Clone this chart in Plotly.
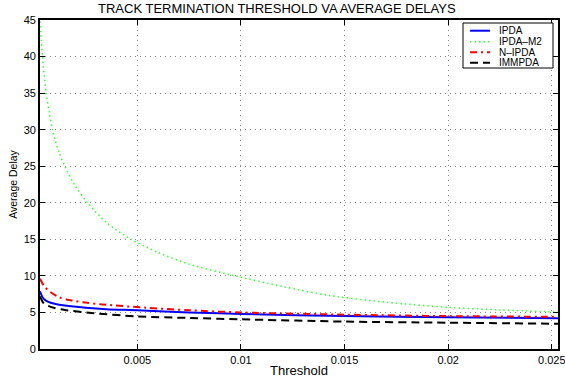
import plotly.graph_objects as go

# ---- data ----
x_ipda = [0.0003, 0.0004, 0.0005, 0.0007, 0.001, 0.0015, 0.0025, 0.0035, 0.005, 0.0075, 0.01, 0.015, 0.02, 0.0253]
y_ipda = [7.9, 7.2, 6.8, 6.45, 6.2, 5.95, 5.65, 5.45, 5.3, 5.0, 4.8, 4.5, 4.33, 4.2]

x_m2 = [0.0003, 0.00042, 0.0005, 0.0006, 0.00075, 0.0009, 0.0012, 0.0015, 0.002, 0.0026, 0.0035,
        0.0047, 0.006, 0.0075, 0.0097, 0.012, 0.0143, 0.017, 0.02, 0.0225, 0.0253]
y_m2 = [44.8, 40.0, 37.5, 35.0, 32.3, 30.0, 27.0, 25.0, 22.3, 20.0, 17.3,
        15.0, 13.2, 11.6, 10.0, 8.55, 7.3, 6.4, 5.7, 5.35, 5.05]

x_nipda = [0.0003, 0.0005, 0.0008, 0.0012, 0.0017, 0.0025, 0.0033, 0.0054, 0.0075, 0.01, 0.015, 0.02, 0.0253]
y_nipda = [9.6, 8.6, 7.8, 7.1, 6.7, 6.35, 6.1, 5.65, 5.3, 5.0, 4.7, 4.5, 4.4]

x_imm = [0.0003, 0.0004, 0.0005, 0.0007, 0.001, 0.0015, 0.0029, 0.005, 0.0075, 0.01, 0.015, 0.02, 0.0253]
y_imm = [7.2, 6.6, 6.2, 5.9, 5.6, 5.33, 4.9, 4.45, 4.25, 4.06, 3.75, 3.6, 3.45]

names = ["IPDA", "IPDA\u2013M2", "N\u2013IPDA", "IMMPDA"]
colors = ["#0000ff", "#33ff33", "#ff0000", "#000000"]
dashes = ["solid", "1.5px,3px", "7px,4px,2px,4px", "8px,5px"]
widths = [2, 1.5, 2, 2]

xs = [x_ipda, x_m2, x_nipda, x_imm]
ys = [y_ipda, y_m2, y_nipda, y_imm]

FONT = "Liberation Sans, Arial, sans-serif"

fig = go.Figure()
for xv, yv, n, c, d, w in zip(xs, ys, names, colors, dashes, widths):
    fig.add_trace(go.Scatter(x=xv, y=yv, name=n, mode="lines",
                             line=dict(color=c, dash=d, width=w, shape="spline", smoothing=0.8),
                             showlegend=False))

# plot area in pixels: x 40..558, y 20..349
L, R, T, B = 40, 558, 20, 349
W, H = R - L, B - T
def px(xp): return (xp - L) / W
def py(yp): return (B - yp) / H

# manual compact legend
fig.add_shape(type="rect", xref="paper", yref="paper", x0=px(463), x1=px(553), y0=py(68), y1=py(23),
              line=dict(color="black", width=1), fillcolor="white", layer="above")
rows = [30.7, 41.7, 52.3, 62.7]
for yr, n, c, d, w in zip(rows, names, colors, dashes, widths):
    fig.add_shape(type="line", xref="paper", yref="paper", x0=px(470), x1=px(490), y0=py(yr), y1=py(yr),
                  line=dict(color=c, dash=d, width=w), layer="above")
    fig.add_annotation(xref="paper", yref="paper", x=px(497), y=py(yr), text=n, showarrow=False,
                       xanchor="left", yanchor="middle", font=dict(family=FONT, size=10, color="black"))

fig.add_annotation(xref="paper", yref="paper", x=px(277), y=py(8), text="TRACK TERMINATION THRESHOLD VA AVERAGE DELAYS",
                   showarrow=False, xanchor="center", yanchor="middle", font=dict(family=FONT, size=13, color="black"))

fig.update_layout(
    width=565, height=378,
    margin=dict(l=L, r=565 - R, t=T, b=378 - B, pad=0),
    paper_bgcolor="white", plot_bgcolor="white",
    font=dict(family=FONT, size=10, color="black"),
)
axis_common = dict(showline=True, linecolor="black", linewidth=1.8, mirror="ticks",
                   ticks="inside", ticklen=5, tickcolor="black", tickwidth=1,
                   showgrid=True, gridcolor="#888888", gridwidth=1, griddash="1px,4px",
                   zeroline=False, tickfont=dict(family=FONT, size=11, color="black"))
fig.update_xaxes(range=[0.0003, 0.0253], tick0=0, dtick=0.005, automargin=False, ticklabeloverflow="allow",
                 title=dict(text="Threshold", font=dict(family=FONT, size=13), standoff=2), **axis_common)
fig.update_yaxes(range=[0, 45], tick0=0, dtick=5, automargin=False,
                 title=dict(text="Average Delay", font=dict(family=FONT, size=10.5), standoff=4), **axis_common)

fig.write_html("out.html", config={"displayModeBar": False},
               post_script="document.body.style.margin='0';document.body.style.overflow='hidden';")
